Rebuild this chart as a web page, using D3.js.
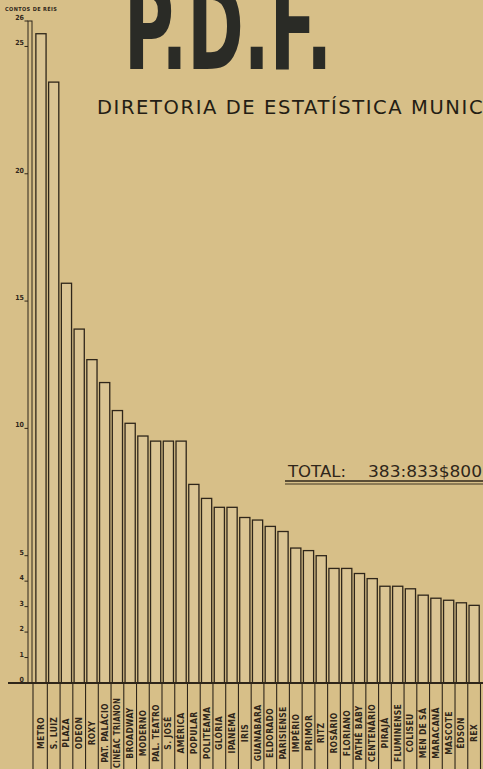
<!DOCTYPE html>
<html>
<head>
<meta charset="utf-8">
<script src="https://cdn.jsdelivr.net/npm/d3@7"></script>
<style>
  html, body { margin: 0; padding: 0; background: #d7bf88; }
  svg { display: block; }
</style>
</head>
<body>
<script>
// Cinema receipts, in contos de réis
const cinemas = [
  "METRO", "S. LUIZ", "PLAZA", "ODEON", "ROXY", "PAT. PALÁCIO",
  "CINEAC TRIANON", "BROADWAY", "MODERNO", "PAL. TEATRO", "S. JOSÉ",
  "AMÉRICA", "POPULAR", "POLITEAMA", "GLÓRIA", "IPANEMA", "IRIS",
  "GUANABARA", "ELDORADO", "PARISIENSE", "IMPÉRIO", "PRIMOR", "RITZ",
  "ROSÁRIO", "FLORIANO", "PATHÉ BABY", "CENTENÁRIO", "PIRAJÁ",
  "FLUMINENSE", "COLISEU", "MEN DE SÁ", "MARACANÃ", "MASCOTE", "ÉDSON", "REX"
];
const receipts = [
  25.5, 23.6, 15.7, 13.9, 12.7, 11.8,
  10.7, 10.2, 9.7, 9.5, 9.5,
  9.5, 7.8, 7.25, 6.9, 6.9, 6.5,
  6.4, 6.15, 5.95, 5.3, 5.2, 5.0,
  4.5, 4.5, 4.3, 4.1, 3.8,
  3.8, 3.7, 3.45, 3.33, 3.25, 3.15, 3.05
];
const yTicks = [0, 1, 2, 3, 4, 5, 10, 15, 20, 25, 26];
const unitLabel = "CONTOS DE RÉIS";
const title = "DIRETORIA DE ESTATÍSTICA MUNICIPAL";
const totalLabel = "TOTAL:";
const totalValue = "383:833$800";

const width = 483, height = 769;
const ink = "#2f261a";

const svg = d3.select("body").append("svg")
  .attr("width", width)
  .attr("height", height)
  .attr("viewBox", [0, 0, width, height]);

svg.append("rect").attr("width", width).attr("height", height).attr("fill", "#d7bf88");

const x = d3.scaleBand()
  .domain(cinemas)
  .range([34.6, 480.5])
  .paddingInner(0.2)
  .paddingOuter(0.1);

const y = d3.scaleLinear().domain([0, 26]).range([683, 21]);

// Header logo (top runs off the sheet, as in the scan)
svg.append("text")
  .attr("x", 124)
  .attr("y", 69)
  .attr("font-family", "DejaVu Sans")
  .attr("font-weight", "bold")
  .attr("font-size", 118)
  .attr("fill", "#2a2b26")
  .attr("textLength", 208)
  .attr("lengthAdjust", "spacingAndGlyphs")
  .text("P.D.F.");

svg.append("text")
  .attr("x", 97)
  .attr("y", 114)
  .attr("font-family", "DejaVu Sans")
  .attr("font-size", 19.5)
  .attr("letter-spacing", 1.6)
  .attr("fill", "#241d14")
  .text(title);

// unit label
svg.append("text")
  .attr("x", 5)
  .attr("y", 11)
  .attr("font-family", "DejaVu Sans Condensed")
  .attr("font-weight", "bold")
  .attr("font-size", 5.5)
  .attr("letter-spacing", 0.4)
  .attr("fill", ink)
  .text(unitLabel);

// Bars
svg.append("g")
  .selectAll("rect")
  .data(cinemas)
  .join("rect")
  .attr("x", (d) => x(d))
  .attr("y", (d, i) => y(receipts[i]))
  .attr("width", x.bandwidth())
  .attr("height", (d, i) => y(0) - y(receipts[i]))
  .attr("fill", "#dac493")
  .attr("stroke", ink)
  .attr("stroke-width", 1.3);

// Y axis column
svg.append("rect")
  .attr("x", 28)
  .attr("y", y(26))
  .attr("width", 4)
  .attr("height", y(0) - y(26))
  .attr("fill", "none")
  .attr("stroke", ink)
  .attr("stroke-width", 1);

const ticks = svg.append("g");
ticks.selectAll("line")
  .data(yTicks)
  .join("line")
  .attr("x1", 24.5)
  .attr("x2", 28)
  .attr("y1", (d) => y(d))
  .attr("y2", (d) => y(d))
  .attr("stroke", ink)
  .attr("stroke-width", 1);
ticks.selectAll("text")
  .data(yTicks)
  .join("text")
  .attr("x", 24)
  .attr("y", (d) => y(d) - 1)
  .attr("text-anchor", "end")
  .attr("font-family", "DejaVu Sans Condensed")
  .attr("font-weight", "bold")
  .attr("font-size", 7)
  .attr("fill", ink)
  .text((d) => d);

// Baseline
svg.append("line")
  .attr("x1", 8).attr("x2", width)
  .attr("y1", y(0)).attr("y2", y(0))
  .attr("stroke", ink)
  .attr("stroke-width", 2);

// Label cells
const gap = x.step() - x.bandwidth();
const dividers = [33].concat(cinemas.map((d) => x(d) + x.bandwidth() + gap / 2));
svg.append("g")
  .selectAll("line")
  .data(dividers)
  .join("line")
  .attr("x1", (d) => d).attr("x2", (d) => d)
  .attr("y1", y(0)).attr("y2", height)
  .attr("stroke", ink)
  .attr("stroke-width", 1.1);

const labels = svg.append("g")
  .selectAll("text")
  .data(cinemas)
  .join("text")
  .attr("transform", (d) => `translate(${x(d) + x.bandwidth() / 2 + 3},733) rotate(-90)`)
  .attr("text-anchor", "middle")
  .attr("font-family", "DejaVu Sans Condensed")
  .attr("font-weight", "bold")
  .attr("font-size", 8.5)
  .attr("letter-spacing", 0.3)
  .attr("fill", ink)
  .text((d) => d);
// squeeze the longest names so they stay inside their cells
labels.each(function () {
  if (this.getComputedTextLength() > 70) {
    d3.select(this).attr("textLength", 70).attr("lengthAdjust", "spacingAndGlyphs");
  }
});

// Total
svg.append("text")
  .attr("x", 288)
  .attr("y", 477)
  .attr("font-family", "DejaVu Sans")
  .attr("font-size", 15.5)
  .attr("fill", ink)
  .attr("textLength", 58)
  .attr("lengthAdjust", "spacingAndGlyphs")
  .text(totalLabel);
svg.append("text")
  .attr("x", 368)
  .attr("y", 477)
  .attr("font-family", "DejaVu Sans")
  .attr("font-size", 15.5)
  .attr("fill", ink)
  .attr("textLength", 114)
  .attr("lengthAdjust", "spacingAndGlyphs")
  .text(totalValue);

svg.append("line")
  .attr("x1", 285).attr("x2", width)
  .attr("y1", 481).attr("y2", 481)
  .attr("stroke", ink).attr("stroke-width", 1.6);
svg.append("line")
  .attr("x1", 285).attr("x2", width)
  .attr("y1", 484).attr("y2", 484)
  .attr("stroke", ink).attr("stroke-width", 0.9);
</script>
</body>
</html>
